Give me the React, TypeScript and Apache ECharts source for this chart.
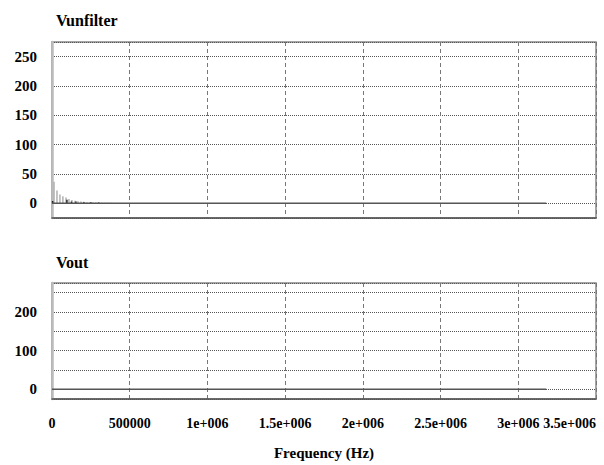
import React, { useEffect, useRef } from "react";
import * as echarts from "echarts";

const xTickValues = [0, 500000, 1000000, 1500000, 2000000, 2500000, 3000000, 3500000];
const xTickLabels = ["0", "500000", "1e+006", "1.5e+006", "2e+006", "2.5e+006", "3e+006", "3.5e+006"];
const topYLabels = [0, 50, 100, 150, 200, 250];
const bottomYLabels = [0, 100, 200];

// Vunfilter spectrum (frequency Hz, magnitude)
const vunfilterHarmonics: [number, number][] = [
  [13000, 37], [32000, 22], [51000, 15], [70000, 12], [90000, 10], [109000, 7.5],
  [128000, 5.5], [148000, 4.5], [167000, 3.5], [186000, 3], [205000, 2.5], [225000, 2],
  [244000, 2], [263000, 1.5], [282000, 1.5], [302000, 1.2], [321000, 1], [340000, 1],
  [360000, 0.8], [379000, 0.8],
];
const vunfilterMinor: [number, number][] = [
  [4000, 4], [96000, 6], [125000, 3], [154000, 3], [205000, 2], [250000, 2], [300000, 1.5],
];
const vunfilterBase: [number, number][] = [[0, 0], [3180000, 0]];
const voutBase: [number, number][] = [[0, 0], [3180000, 0]];

const FONT = "Liberation Serif";

export default function App() {
  const ref = useRef<HTMLDivElement>(null);
  useEffect(() => {
    if (!ref.current) return;
    const chart = echarts.init(ref.current, null, { renderer: "svg" });
    const xLabelFmt = (v: number) => {
      const i = xTickValues.indexOf(v);
      return i >= 0 ? xTickLabels[i] : "";
    };
    const mkX = (gridIndex: number, showLabels: boolean) => ({
      type: "value",
      gridIndex,
      min: 0,
      max: 3500000,
      interval: 500000,
      axisLine: { show: true, onZero: false, lineStyle: { color: "#555", width: 1.5 } },
      axisTick: { show: false },
      axisLabel: {
        show: showLabels,
        formatter: xLabelFmt,
        fontFamily: FONT,
        fontWeight: "bold",
        fontSize: 14,
        color: "#000",
        margin: 17,
        alignMaxLabel: "right",
      },
      splitLine: { show: true, lineStyle: { color: "#777", type: [4, 3], width: 1 } },
      name: showLabels ? "Frequency (Hz)" : "",
      nameLocation: "middle",
      nameGap: 46,
      nameTextStyle: { fontFamily: FONT, fontWeight: "bold", fontSize: 15, color: "#000" },
    });
    const mkY = (gridIndex: number, labels: number[]) => ({
      type: "value",
      gridIndex,
      min: -25,
      max: 275,
      splitNumber: 6,
      axisLine: { show: true, onZero: false, lineStyle: { color: "#bbb", width: 2.5 } },
      axisTick: { show: false },
      axisLabel: {
        formatter: (v: number) => (labels.indexOf(v) >= 0 ? String(v) : ""),
        fontFamily: FONT,
        fontWeight: "bold",
        fontSize: 15,
        color: "#000",
        margin: 15,
      },
      splitLine: { show: true, lineStyle: { color: "#555", type: [1, 1], width: 1 } },
    });
    chart.setOption({
      animation: false,
      backgroundColor: "#fff",
      title: [
        {
          text: "Vunfilter",
          left: 51,
          top: 7,
          textStyle: { fontFamily: FONT, fontWeight: "bold", fontSize: 16, color: "#000" },
        },
        {
          text: "Vout",
          left: 51,
          top: 249,
          textStyle: { fontFamily: FONT, fontWeight: "bold", fontSize: 16, color: "#000" },
        },
      ],
      grid: [
        { left: 52, right: 8, top: 42, height: 176, show: true, borderColor: "#888", borderWidth: 1.5 },
        { left: 52, right: 8, top: 283, height: 116, show: true, borderColor: "#888", borderWidth: 1.5 },
      ],
      xAxis: [mkX(0, false), mkX(1, true)],
      yAxis: [mkY(0, topYLabels), mkY(1, bottomYLabels)],
      series: [
        {
          type: "bar",
          xAxisIndex: 0,
          yAxisIndex: 0,
          data: vunfilterHarmonics,
          barWidth: 1.5,
          barGap: "-100%",
          itemStyle: { color: "#b0b0b0" },
        },
        {
          type: "bar",
          xAxisIndex: 0,
          yAxisIndex: 0,
          data: vunfilterMinor,
          barWidth: 1.5,
          barGap: "-100%",
          itemStyle: { color: "#222" },
        },
        {
          type: "line",
          xAxisIndex: 0,
          yAxisIndex: 0,
          data: vunfilterBase,
          showSymbol: false,
          symbol: "none",
          lineStyle: { color: "#555", width: 1.5 },
        },
        {
          type: "line",
          xAxisIndex: 1,
          yAxisIndex: 1,
          data: voutBase,
          showSymbol: false,
          symbol: "none",
          lineStyle: { color: "#555", width: 1.5 },
        },
      ],
    });
    return () => chart.dispose();
  }, []);
  return (
    <div
      ref={ref}
      style={{ position: "fixed", left: 0, top: 0, width: 604, height: 465, background: "#fff" }}
    />
  );
}
